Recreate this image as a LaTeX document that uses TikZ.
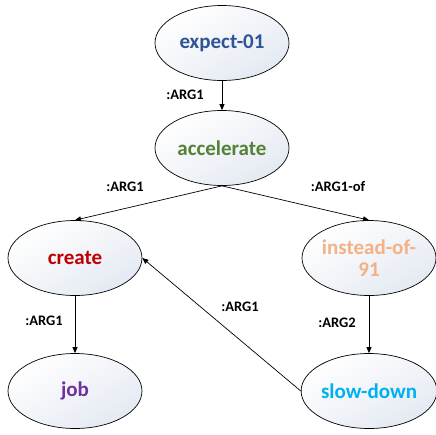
\documentclass[tikz,border=0pt]{standalone}
\usepackage{fontspec}
\setmainfont{Carlito}
\usetikzlibrary{shapes.geometric,arrows.meta}
\definecolor{cblue}{HTML}{2F5597}
\definecolor{cgreen}{HTML}{548235}
\definecolor{cred}{HTML}{C00000}
\definecolor{corange}{HTML}{F4B183}
\definecolor{cpurple}{HTML}{7030A0}
\definecolor{ccyan}{HTML}{00B0F0}
\definecolor{shadeend}{HTML}{E4E9F2}
\begin{document}
\begin{tikzpicture}[x=1pt,y=-1pt,
  concept/.style={ellipse,draw=black,line width=0.7pt,minimum width=134pt,minimum height=75pt,inner sep=0pt,
    shading=axis,top color=white,bottom color=shadeend,shading angle=30,
    font=\bfseries\fontsize{21}{22}\selectfont,align=center},
  rel/.style={font=\bfseries\fontsize{14.5}{16}\selectfont,text=black},
  arr/.style={-{Triangle[length=6pt,width=5pt]},line width=0.7pt}]
\useasboundingbox (0,0) rectangle (436,434);
\node[concept,text=cblue] (e) at (222,43) {expect-01};
\node[concept,text=cgreen] (a) at (222,148) {accelerate};
\node[concept,text=cred] (c) at (75,258) {create};
\node[concept,text=corange] (i) at (369,258) {instead-of-\\91};
\node[concept,text=cpurple] (j) at (75,391) {job};
\node[concept,text=ccyan] (s) at (369,391) {slow-down};
\draw[arr] (e.south) -- (a.north);
\draw[arr] (a.south) -- (c.north);
\draw[arr] (a.south) -- (i.north);
\draw[arr] (c.south) -- (j.north);
\draw[arr] (i.south) -- (s.north);
\draw[arr] (s.west) -- (c.east);
\node[rel] (l1) at (185,95) {:ARG1};
\node[rel] (l2) at (125,187) {:ARG1};
\node[rel] (l3) at (338,187) {:ARG1-of};
\node[rel] (l4) at (44,321) {:ARG1};
\node[rel] (l5) at (337,323) {:ARG2};
\node[rel] (l6) at (240,307) {:ARG1};
\end{tikzpicture}
\end{document}
